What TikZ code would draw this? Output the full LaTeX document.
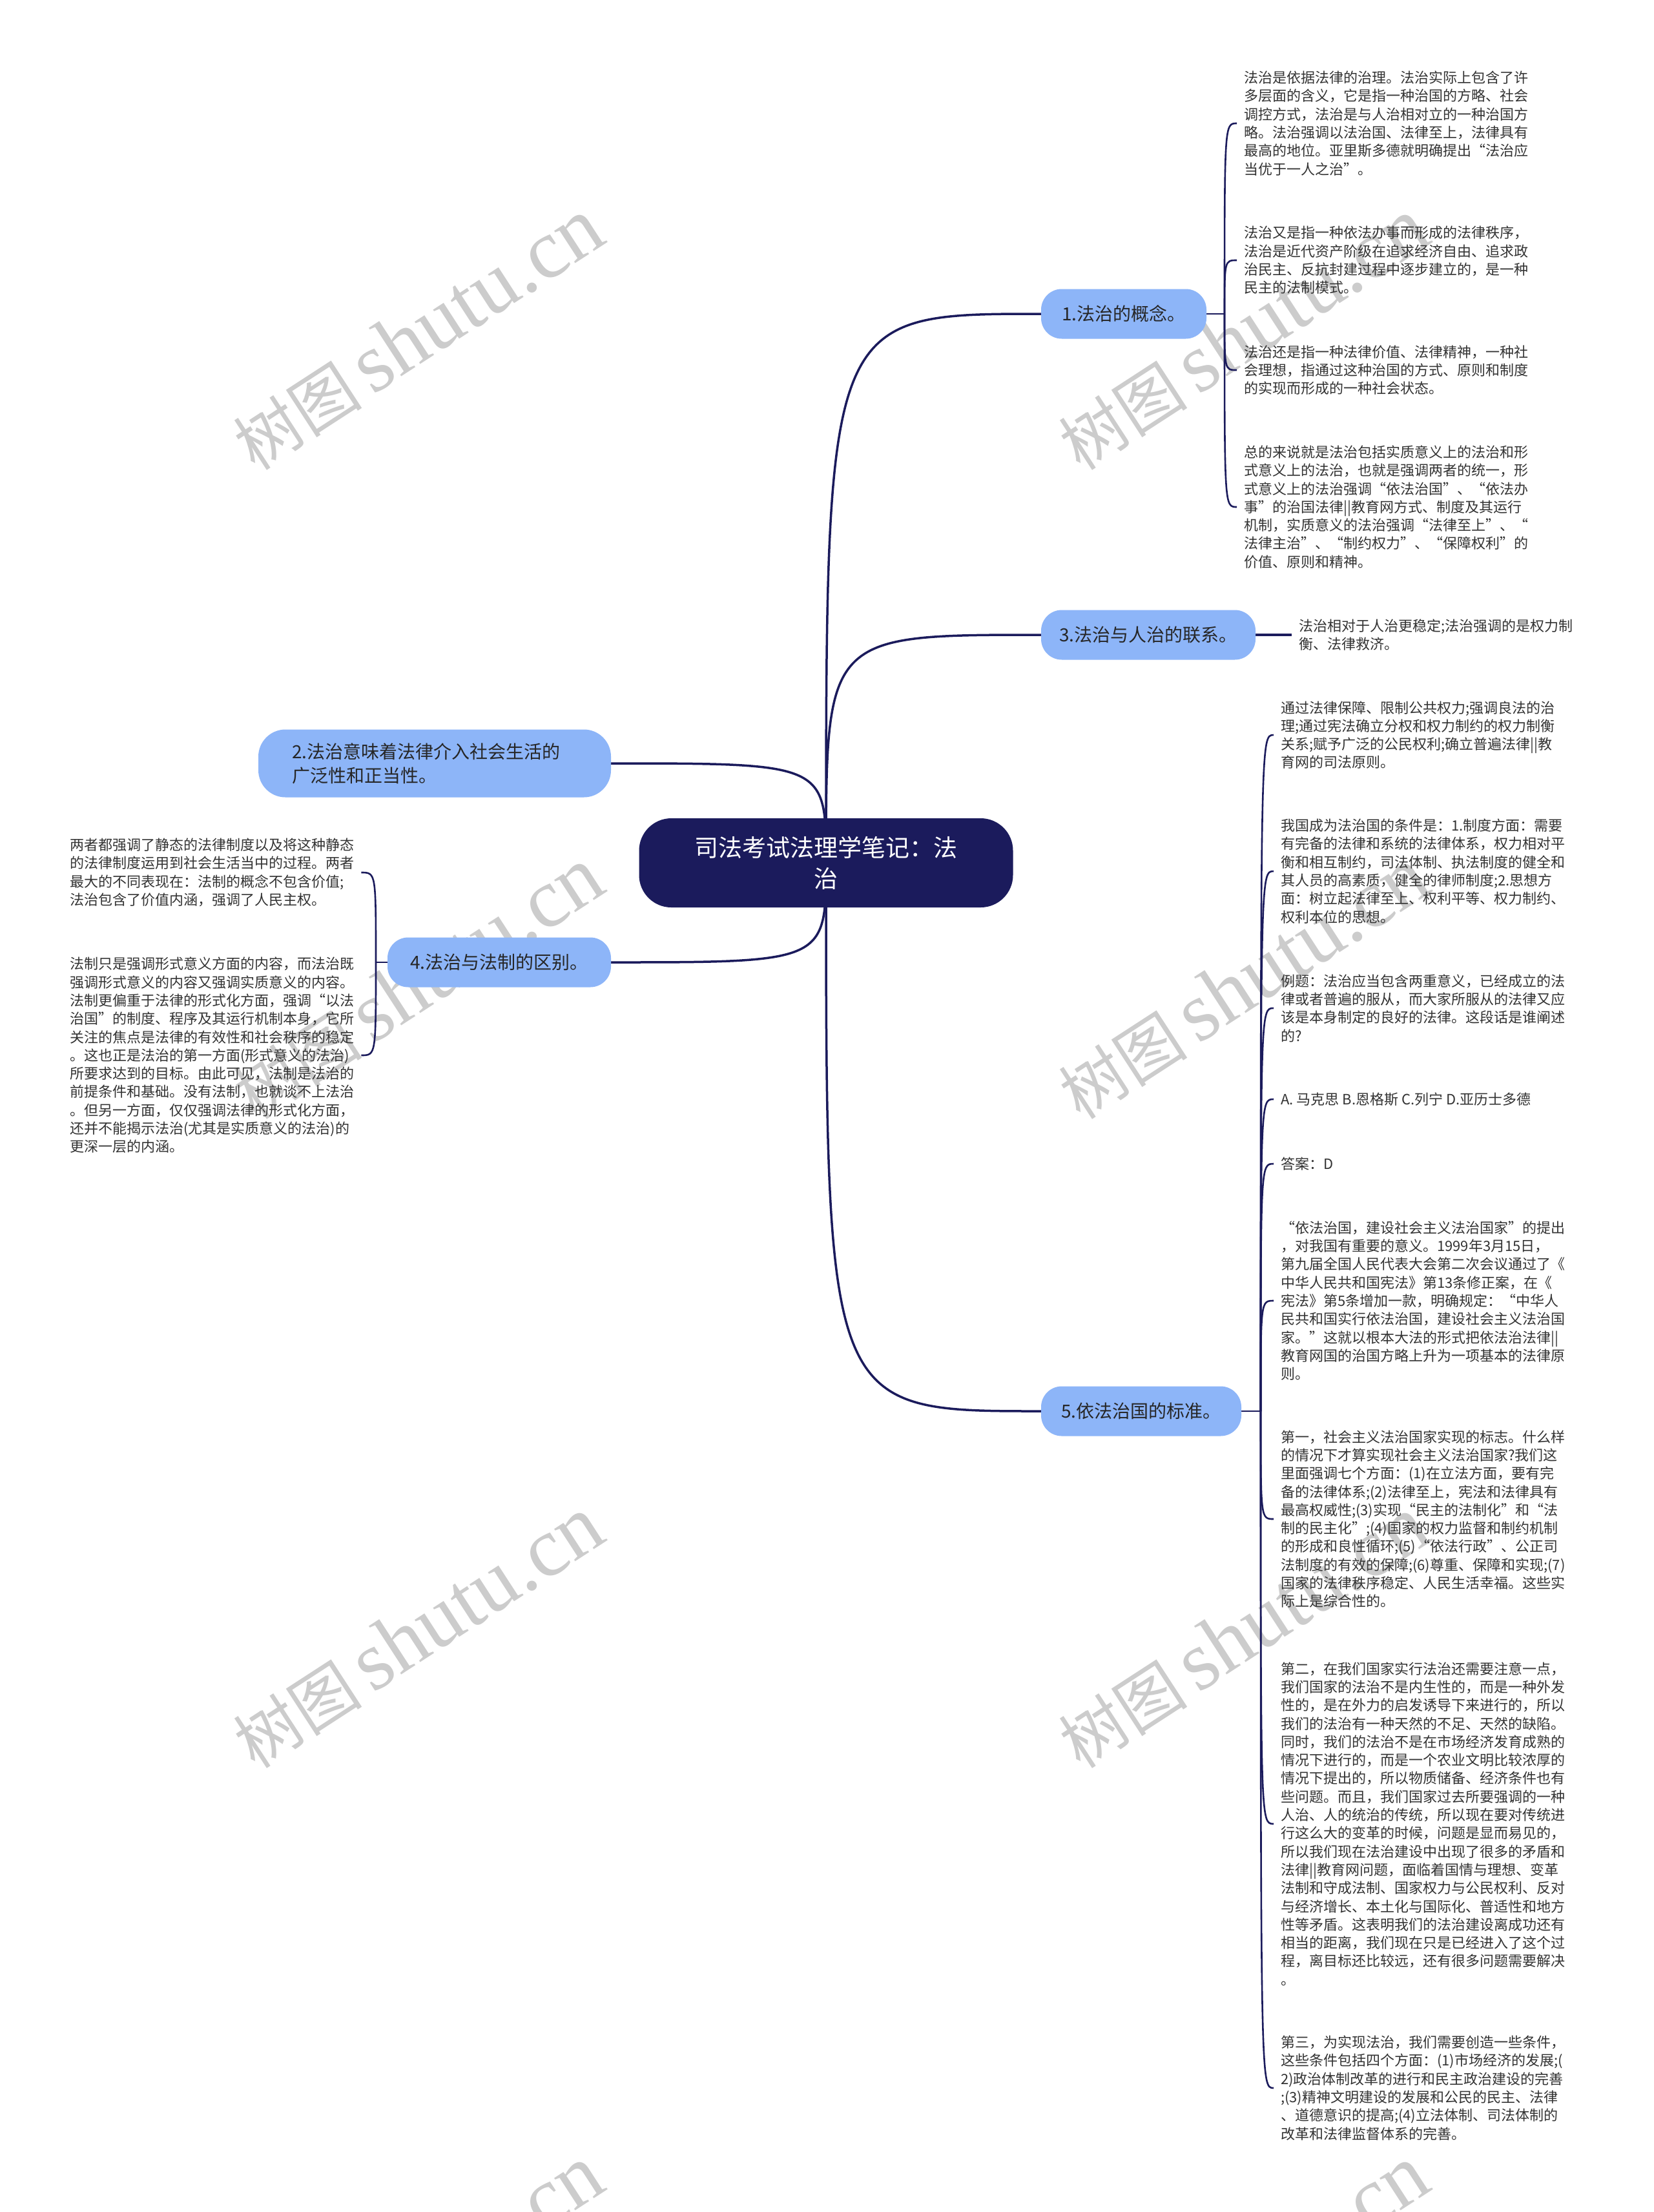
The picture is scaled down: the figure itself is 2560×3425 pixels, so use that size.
\documentclass[tikz,border=0pt]{standalone}
\usepackage{fontspec}
\setmainfont{Noto Sans CJK SC}
\newfontfamily\wmlatin{Liberation Serif}
\usetikzlibrary{backgrounds,calc}
\pgfdeclarelayer{paper}
\pgfsetlayers{paper,background,main}
\definecolor{navy}{HTML}{1B1B5C}
\definecolor{nodeblue}{HTML}{8DB5F8}
\definecolor{wmgray}{HTML}{CCCCCC}
\definecolor{leaftext}{HTML}{333333}
\tikzset{
  rootbox/.style={fill=navy, draw=none, rounded corners=50pt, text=white, align=center,
    font=\fontsize{37}{48}\selectfont, minimum width=579pt, minimum height=138pt, inner sep=0pt},
  subbox/.style={fill=nodeblue, draw=none, rounded corners=32pt, text=black!85,
    font=\fontsize{28}{37}\selectfont, inner sep=0pt, minimum height=77pt},
  leaf/.style={anchor=west, align=left, inner xsep=11pt, inner ysep=0pt,
    font=\fontsize{22}{28.3}\selectfont, text=leaftext},
  branch/.style={draw=navy, line width=3.5pt},
  twig/.style={draw=navy, line width=2.6pt},
  wm/.style={text=wmgray, rotate=33, inner sep=0pt}
}
\begin{document}
\begin{tikzpicture}[x=1pt,y=-1pt]
\useasboundingbox (0,0) rectangle (2560,3425);
\clip (0,0) rectangle (2560,3425);
\begin{pgfonlayer}{paper}
\fill[white] (0,0) rectangle (2560,3425);
% watermarks
\foreach \wx in {647,1925}{
  \foreach \wy in {518,1523,2528,3533}{
    \node[wm] at (\wx,\wy) {\fontsize{100}{100}\selectfont 树图\,{\wmlatin\fontsize{130}{130}\selectfont shutu.cn}};
  }
}
\end{pgfonlayer}

% main nodes
\node[rootbox] (root) at (1279,1336) {司法考试法理学笔记：法\\治};
\node[subbox, minimum width=256pt] (n1) at (1740,486) {1.法治的概念。};
\node[subbox, minimum width=332pt] (n3) at (1778,983) {3.法治与人治的联系。};
\node[subbox, minimum width=310pt] (n5) at (1767,2185) {5.依法治国的标准。};
\node[subbox, minimum width=546pt, minimum height=105pt, text width=442pt, align=left, rounded corners=42pt] (n2) at (673,1182) {2.法治意味着法律介入社会生活的\\广泛性和正当性。};
\node[subbox, minimum width=346pt] (n4) at (773,1490) {4.法治与法制的区别。};

% hubs
\coordinate (h1) at (1896,486);
\coordinate (h5) at (1952,2185);
\coordinate (h4) at (582,1490);

% leaves of 1
\node[leaf] (l1a) at (1915,191) {法治是依据法律的治理。法治实际上包含了许\\多层面的含义，它是指一种治国的方略、社会\\调控方式，法治是与人治相对立的一种治国方\\略。法治强调以法治国、法律至上，法律具有\\最高的地位。亚里斯多德就明确提出“法治应\\当优于一人之治”。};
\node[leaf] (l1b) at (1915,403) {法治又是指一种依法办事而形成的法律秩序，\\法治是近代资产阶级在追求经济自由、追求政\\治民主、反抗封建过程中逐步建立的，是一种\\民主的法制模式。};
\node[leaf] (l1c) at (1915,573) {法治还是指一种法律价值、法律精神，一种社\\会理想，指通过这种治国的方式、原则和制度\\的实现而形成的一种社会状态。};
\node[leaf] (l1d) at (1915,785) {总的来说就是法治包括实质意义上的法治和形\\式意义上的法治，也就是强调两者的统一，形\\式意义上的法治强调“依法治国”、“依法办\\事”的治国法律||教育网方式、制度及其运行\\机制，实质意义的法治强调“法律至上”、“\\法律主治”、“制约权力”、“保障权利”的\\价值、原则和精神。};

% leaf of 3
\node[leaf] (l3) at (2000,983) {法治相对于人治更稳定;法治强调的是权力制\\衡、法律救济。};

% leaves of 5
\node[leaf] (l5a) at (1972,1138) {通过法律保障、限制公共权力;强调良法的治\\理;通过宪法确立分权和权力制约的权力制衡\\关系;赋予广泛的公民权利;确立普遍法律||教\\育网的司法原则。};
\node[leaf] (l5b) at (1972,1349) {我国成为法治国的条件是：1.制度方面：需要\\有完备的法律和系统的法律体系，权力相对平\\衡和相互制约，司法体制、执法制度的健全和\\其人员的高素质，健全的律师制度;2.思想方\\面：树立起法律至上、权利平等、权力制约、\\权利本位的思想。};
\node[leaf] (l5c) at (1972,1561) {例题：法治应当包含两重意义，已经成立的法\\律或者普遍的服从，而大家所服从的法律又应\\该是本身制定的良好的法律。这段话是谁阐述\\的?};
\node[leaf] (l5d) at (1972,1702) {A. 马克思 B.恩格斯 C.列宁 D.亚历士多德};
\node[leaf] (l5e) at (1972,1802) {答案：D};
\node[leaf] (l5f) at (1972,2014) {“依法治国，建设社会主义法治国家”的提出\\，对我国有重要的意义。1999年3月15日，\\第九届全国人民代表大会第二次会议通过了《\\中华人民共和国宪法》第13条修正案，在《\\宪法》第5条增加一款，明确规定：“中华人\\民共和国实行依法治国，建设社会主义法治国\\家。”这就以根本大法的形式把依法治法律||\\教育网国的治国方略上升为一项基本的法律原\\则。};
\node[leaf] (l5g) at (1972,2352) {第一，社会主义法治国家实现的标志。什么样\\的情况下才算实现社会主义法治国家?我们这\\里面强调七个方面：(1)在立法方面，要有完\\备的法律体系;(2)法律至上，宪法和法律具有\\最高权威性;(3)实现“民主的法制化”和“法\\制的民主化”;(4)国家的权力监督和制约机制\\的形成和良性循环;(5)“依法行政”、公正司\\法制度的有效的保障;(6)尊重、保障和实现;(7)\\国家的法律秩序稳定、人民生活幸福。这些实\\际上是综合性的。};
\node[leaf] (l5h) at (1972,2824) {第二，在我们国家实行法治还需要注意一点，\\我们国家的法治不是内生性的，而是一种外发\\性的，是在外力的启发诱导下来进行的，所以\\我们的法治有一种天然的不足、天然的缺陷。\\同时，我们的法治不是在市场经济发育成熟的\\情况下进行的，而是一个农业文明比较浓厚的\\情况下提出的，所以物质储备、经济条件也有\\些问题。而且，我们国家过去所要强调的一种\\人治、人的统治的传统，所以现在要对传统进\\行这么大的变革的时候，问题是显而易见的，\\所以我们现在法治建设中出现了很多的矛盾和\\法律||教育网问题，面临着国情与理想、变革\\法制和守成法制、国家权力与公民权利、反对\\与经济增长、本土化与国际化、普适性和地方\\性等矛盾。这表明我们的法治建设离成功还有\\相当的距离，我们现在只是已经进入了这个过\\程，离目标还比较远，还有很多问题需要解决\\。};
\node[leaf] (l5i) at (1972,3233) {第三，为实现法治，我们需要创造一些条件，\\这些条件包括四个方面：(1)市场经济的发展;(\\2)政治体制改革的进行和民主政治建设的完善\\;(3)精神文明建设的发展和公民的民主、法律\\、道德意识的提高;(4)立法体制、司法体制的\\改革和法律监督体系的完善。};

% leaves of 4
\node[leaf] (l4a) at (97,1351) {两者都强调了静态的法律制度以及将这种静态\\的法律制度运用到社会生活当中的过程。两者\\最大的不同表现在：法制的概念不包含价值;\\法治包含了价值内涵，强调了人民主权。};
\node[leaf] (l4b) at (97,1634) {法制只是强调形式意义方面的内容，而法治既\\强调形式意义的内容又强调实质意义的内容。\\法制更偏重于法律的形式化方面，强调“以法\\治国”的制度、程序及其运行机制本身，它所\\关注的焦点是法律的有效性和社会秩序的稳定\\。这也正是法治的第一方面(形式意义的法治)\\所要求达到的目标。由此可见，法制是法治的\\前提条件和基础。没有法制，也就谈不上法治\\。但另一方面，仅仅强调法律的形式化方面，\\还并不能揭示法治(尤其是实质意义的法治)的\\更深一层的内涵。};

% connectors
\begin{scope}[on background layer]
  \draw[branch] (root.center) .. controls (root.center |- n1.west) .. (n1.west);
  \draw[branch] (root.center) .. controls (root.center |- n3.west) .. (n3.west);
  \draw[branch] (root.center) .. controls (root.center |- n5.west) .. (n5.west);
  \draw[branch] (root.center) .. controls (root.center |- n2.east) .. (n2.east);
  \draw[branch] (root.center) .. controls (root.center |- n4.east) .. (n4.east);

  \draw[twig] (n1.east) -- (h1);
  \foreach \l in {l1a,l1b,l1c,l1d}{
    \draw[twig] (h1) .. controls (h1 |- \l.west) .. (\l.west);
  }
  \draw[branch] (n3.east) -- (l3.west);
  \draw[twig] (n5.east) -- (h5);
  \foreach \l in {l5a,l5b,l5c,l5d,l5e,l5f,l5g,l5h,l5i}{
    \draw[twig] (h5) .. controls (h5 |- \l.west) .. (\l.west);
  }
  \draw[twig] (n4.west) -- (h4);
  \foreach \l in {l4a,l4b}{
    \draw[twig] (h4) .. controls (h4 |- \l.east) .. (\l.east);
  }
\end{scope}
\end{tikzpicture}
\end{document}
